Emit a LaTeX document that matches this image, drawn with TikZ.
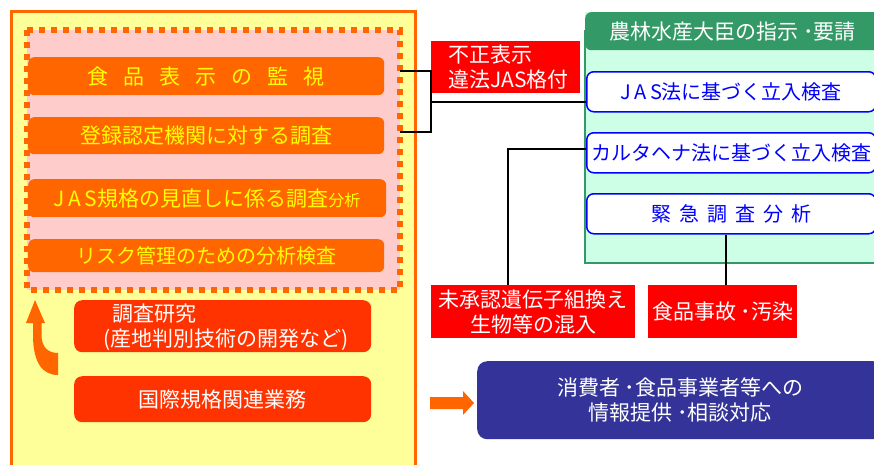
\documentclass[tikz,border=0pt]{standalone}
\usepackage{fontspec}
\setmainfont{Noto Sans CJK JP}
\usetikzlibrary{calc}
\definecolor{oyel}{HTML}{FFFF99}
\definecolor{oranF}{HTML}{FF6600}
\definecolor{pinkF}{HTML}{FFCCCC}
\definecolor{ytext}{HTML}{FFFF00}
\definecolor{rorange}{HTML}{FF3300}
\definecolor{redF}{HTML}{FF0000}
\definecolor{greenH}{HTML}{339966}
\definecolor{mintF}{HTML}{CCFFE6}
\definecolor{blueF}{HTML}{0000FF}
\definecolor{navyF}{HTML}{333399}
\tikzset{
  fnt/.style={font=\fontsize{21}{25}\selectfont},
  obox/.style={fill=oranF, text=ytext, rounded corners=6pt, anchor=north west, inner sep=0pt, fnt},
  rbox/.style={fill=rorange, text=white, rounded corners=8pt, anchor=north west, inner sep=0pt, fnt},
  redlab/.style={fill=redF, text=white, anchor=north west, inner sep=0pt, align=center, fnt},
  bbox/.style={fill=white, draw=blueF, line width=1.5pt, text=blueF, rounded corners=7pt, anchor=north west, inner sep=0pt, minimum width=289pt, minimum height=40pt, font=\fontsize{20}{24}\selectfont},
  conn/.style={draw=black, line width=1.8pt},
}
\begin{document}
\begin{tikzpicture}[x=1pt,y=-1pt]
\useasboundingbox (0,0) rectangle (874,464);
\clip (0,0) rectangle (874,464);
% left panel
\draw[fill=oyel, draw=oranF, line width=3pt] (11.5,11.5) rectangle (415,480);
\draw[fill=pinkF, draw=oranF, line width=6pt, dash pattern=on 6pt off 6pt] (27,30) rectangle (400,290);
\node[obox, minimum width=356pt, minimum height=38pt] (b1) at (28,57) {食\hspace{15pt}品\hspace{15pt}表\hspace{15pt}示\hspace{15pt}の\hspace{15pt}監\hspace{15pt}視};
\node[obox, minimum width=356pt, minimum height=37pt] (b2) at (28,117) {登録認定機関に対する調査};
\node[obox, minimum width=358pt, minimum height=38pt] (b3) at (28,179) {J\,A\,S規格の見直しに係る調査{\fontsize{16}{20}\selectfont 分析}};
\node[obox, minimum width=356pt, minimum height=33pt, font=\fontsize{20}{24}\selectfont] (b4) at (28,239) {リスク管理のための分析検査};
\node[rbox, minimum width=297pt, minimum height=52pt] (b5) at (74,300) {};
\node[text=white, anchor=west, inner sep=0pt, align=left, fnt] (b5t) at (103,327) {\hspace*{9pt}調査研究\\(産地判別技術の開発など)};
\node[rbox, minimum width=297pt, minimum height=46pt] (b6) at (74,376) {国際規格関連業務};
% curved arrow
\fill[oranF] (35,300) -- (45,323) -- (41.5,323) -- (41.5,335) .. controls (41.5,347) and (48,353) .. (58,353) -- (58,375) .. controls (42,375) and (33,362) .. (33,335) -- (33,323) -- (26,323) -- cycle;
% right panel
\fill[mintF] (585,12) rectangle (880,263);
\draw[draw=greenH, line width=1.5pt] (585,30) -- (585,263) -- (880,263);
\node[fill=greenH, text=white, rounded corners=6pt, anchor=north west, inner sep=0pt, minimum width=295pt, minimum height=38pt, fnt] (hdr) at (585,12) {農林水産大臣の指示 ･要請};
\node[bbox] (jas) at (586,71) {J\,A\,S法に基づく立入検査};
\node[bbox] (kar) at (586,132) {カルタヘナ法に基づく立入検査};
\node[bbox] (kin) at (586,193) {緊\hspace{8pt}急\hspace{8pt}調\hspace{8pt}査\hspace{8pt}分\hspace{8pt}析};
% red labels
\node[redlab, minimum width=149pt, minimum height=52pt, align=left] (fu) at (431,41) {\hspace*{6pt}不正表示\\\hspace*{6pt}違法JAS格付};
\node[redlab, minimum width=204pt, minimum height=53pt] (mi) at (431,285) {未承認遺伝子組換え\\生物等の混入};
\node[redlab, minimum width=149pt, minimum height=53pt] (sh) at (648,285) {食品事故 ･汚染};
% info box
\fill[oranF] (430,397) -- (463,397) -- (463,391) -- (474,403) -- (463,415) -- (463,409) -- (430,409) -- cycle;
\node[fill=navyF, text=white, rounded corners=10pt, anchor=north west, inner sep=0pt, minimum width=406pt, minimum height=78pt, align=center, fnt] (inf) at (477,361) {消費者 ･食品事業者等への\\情報提供 ･相談対応};
% connectors
\coordinate (c1) at (400,71);
\coordinate (c2) at (400,132);
\coordinate (j1) at (431,102);
\draw[conn] (c1) -- (431,71) -- (431,132) -- (c2);
\draw[conn] (j1) -- (j1 -| jas.west);
\coordinate (mtop) at (508,285);
\draw[conn] ([yshift=4pt]kar.west) -| (mtop);
\draw[conn] ([xshift=3.5pt]kin.south -| sh.north) -- ([xshift=3.5pt]sh.north);
\end{tikzpicture}
\end{document}
